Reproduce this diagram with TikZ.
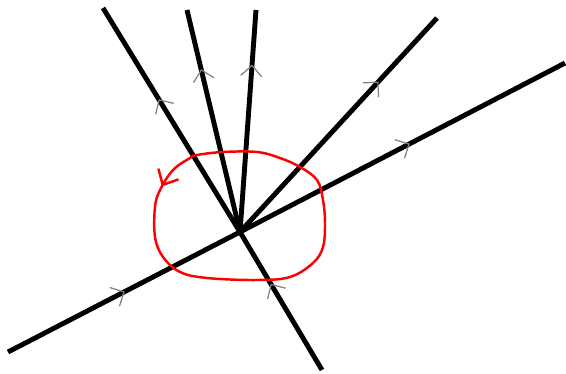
\documentclass[tikz,border=0pt]{standalone}
\usetikzlibrary{arrows.meta}
\usetikzlibrary{decorations.markings}

\begin{document}
\begin{tikzpicture}[
    x=0.02cm, y=-0.02cm,
    ray/.style={line width=2.8pt, black},
    flow/.style={postaction={decorate}, decoration={markings,
        mark=at position #1 with {\draw[gray, line width=0.7pt] (-6pt,-6pt) -- (0,0) -- (-6pt,6pt);}}},
    loop/.style={red, line width=1.4pt},
    >=stealth
]

\useasboundingbox (0,0) rectangle (566,373);

% --- Vertex and line ends ---
\coordinate (o) at (240,232);
\coordinate (in1) at (8,352);
\coordinate (in2) at (322,370);
\coordinate (out1) at (565,63);
\coordinate (out2) at (103,8);
\coordinate (out3) at (187,10);
\coordinate (out4) at (256,10);
\coordinate (out5) at (437,18);

% --- Incoming lines ---
\draw[ray, flow=0.5] (in1) -- (o);
\draw[ray, flow=0.62] (in2) -- (o);

% --- Outgoing lines ---
\draw[ray, flow=0.52] (o) -- (out1);
\draw[ray, flow=0.59] (o) -- (out2);
\draw[ray, flow=0.73] (o) -- (out3);
\draw[ray, flow=0.75] (o) -- (out4);
\draw[ray, flow=0.70] (o) -- (out5);

% --- Loop around the vertex ---
\draw[loop, postaction={decorate}, decoration={markings,
        mark=at position 0.04 with {\arrow{Straight Barb[length=7pt, width=13pt]}}}]
    plot[smooth cycle, tension=0.6] coordinates {
        (190,158) (173,170) (160,190) (155,207) (155,237) (163,257)
        (180,272) (207,278) (257,280) (290,277) (313,263) (323,247)
        (325,223) (323,200) (317,180) (300,167) (280,158) (257,152)
        (223,152) (197,155)};

\end{tikzpicture}
\end{document}
